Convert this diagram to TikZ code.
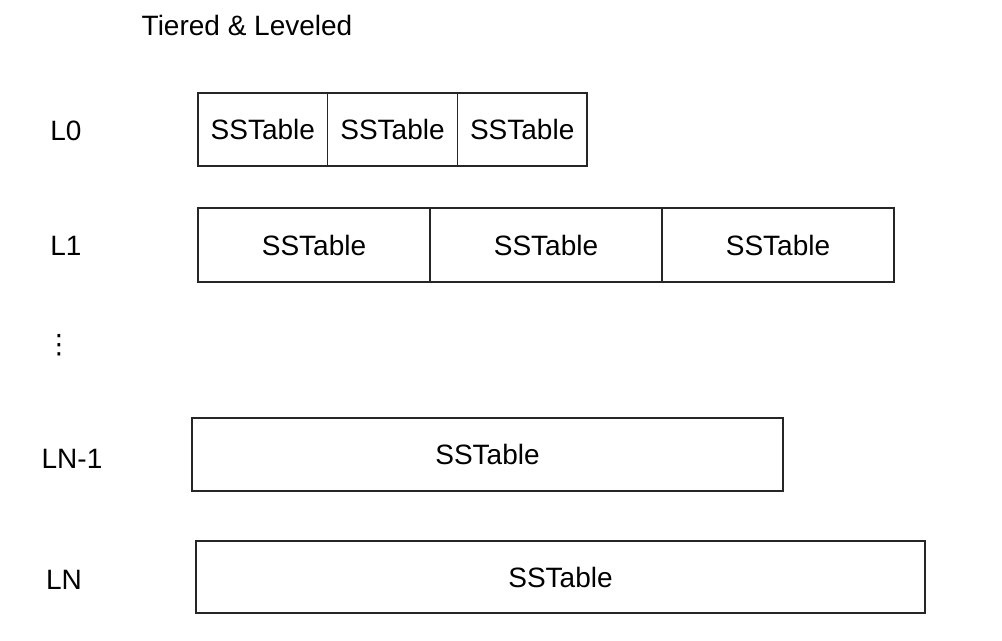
\documentclass[tikz,border=0pt]{standalone}
\usepackage{fontspec}
\setmainfont{Liberation Sans}
\newfontfamily\symfont{DejaVu Sans}
\usetikzlibrary{positioning}

\begin{document}
\begin{tikzpicture}[
        x=0.75pt, y=-0.75pt,
        every node/.style={font=\fontsize{21}{25}\selectfont},
        sstable/.style={draw=black!85, line width=0.9pt, inner sep=0pt, outer sep=0pt},
        level/.style={anchor=center},
    ]
    \useasboundingbox (0,0) rectangle (1002,640);

    \node (title) at (247,25) {Tiered \& Leveled};

    % level labels
    \node[level] (L0) at (66,131) {L0};
    \node[level] (L1) at (66,246) {L1};
    \node[level, font=\symfont\fontsize{20}{24}\selectfont] (dots) at (59,345) {⋮};
    \node[level] (LNm) at (72,459) {LN-1};
    \node[level] (LN) at (64,580) {LN};

    % L0: three small tables
    \node[sstable, minimum width=97.25pt, minimum height=54.75pt, anchor=west] (l0a) at (198,129.5) {SSTable};
    \node[sstable, minimum width=97.25pt, minimum height=54.75pt, right=0pt of l0a] (l0b) {SSTable};
    \node[sstable, minimum width=97.25pt, minimum height=54.75pt, right=0pt of l0b] (l0c) {SSTable};

    % L1: three larger tables
    \node[sstable, minimum width=174pt, minimum height=55.5pt, anchor=west] (l1a) at (198,245) {SSTable};
    \node[sstable, minimum width=174pt, minimum height=55.5pt, right=0pt of l1a] (l1b) {SSTable};
    \node[sstable, minimum width=174pt, minimum height=55.5pt, right=0pt of l1b] (l1c) {SSTable};

    % LN-1 and LN
    \node[sstable, minimum width=443.25pt, minimum height=54.75pt, anchor=west] (lnm) at (192,454.5) {SSTable};
    \node[sstable, minimum width=546.75pt, minimum height=54pt, anchor=west] (ln) at (196,577) {SSTable};
\end{tikzpicture}
\end{document}
